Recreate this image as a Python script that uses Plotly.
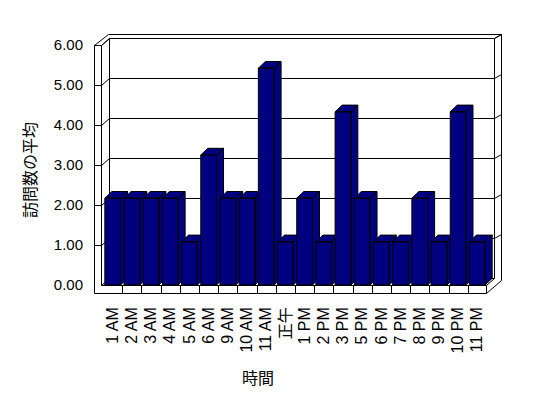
import plotly.graph_objects as go

# ---- data ----
categories = ["1 AM", "2 AM", "3 AM", "4 AM", "5 AM", "6 AM", "9 AM", "10 AM", "11 AM", "正午",
              "1 PM", "2 PM", "3 PM", "5 PM", "6 PM", "7 PM", "8 PM", "9 PM", "10 PM", "11 PM"]
values = [2.17, 2.17, 2.17, 2.17, 1.08, 3.25, 2.17, 2.17, 5.42, 1.08,
          2.17, 1.08, 4.33, 2.17, 1.08, 1.08, 2.17, 1.08, 4.33, 1.08]
y_ticks = [0, 1, 2, 3, 4, 5, 6]
y_ticktext = ["0.00", "1.00", "2.00", "3.00", "4.00", "5.00", "6.00"]
x_title = "時間"
y_title = "訪問数の平均"

# ---- geometry (pixel layout of the 3D box) ----
W, H = 548, 398
PL, PR, PT, PB = 93, 502, 26, 296          # plot area in pixels
KX = 19.19                                  # px per category
X0 = 112.7                                  # px of category 0 centre
Y0 = 285.0                                  # px of value 0 (front plane)
KY = 40.0                                   # px per unit value

def fx(px):
    return (px - X0) / KX

def fy(py):
    return (Y0 - py) / KY

xa, xb = fx(PL), fx(PR)
ya, yb = fy(PB), fy(PT)

NAVY = "#000080"
BAR_W = 0.82
BDX, BDY = 7.0 / KX, 6.7 / KY              # bar depth offset in data units

fig = go.Figure()

# bars: each bar as front / side / top faces, drawn left to right
for i, v in enumerate(values):
    l, r = i - BAR_W / 2, i + BAR_W / 2
    xs = [l, r, r, l, l, None,
          r, r + BDX, r + BDX, r, r, None,
          l, r, r + BDX, l + BDX, l]
    ys = [0, 0, v, v, 0, None,
          0, BDY, v + BDY, v, 0, None,
          v, v, v + BDY, v + BDY, v]
    fig.add_trace(go.Scatter(x=xs, y=ys, mode="lines", fill="toself",
                             fillcolor=NAVY, line=dict(color="black", width=1),
                             hoverinfo="skip", showlegend=False,
                             name=categories[i]))

# ---- walls / floor / gridlines as shapes ----
shapes = []

def seg(p1, p2):
    shapes.append(dict(type="line", xref="x", yref="y", layer="below",
                       x0=fx(p1[0] + 0.5), y0=fy(p1[1] + 0.5),
                       x1=fx(p2[0] + 0.5), y1=fy(p2[1] + 0.5),
                       line=dict(color="black", width=1)))

# left wall
seg((94, 45), (94, 293))
seg((101, 45), (101, 285))
seg((94, 45), (101, 45))
seg((94, 45), (108, 34))
seg((101, 45), (109, 38))
seg((109, 38), (109, 278))
# back wall
seg((108, 34), (501, 34))
seg((501, 34), (501, 280))
seg((494, 38), (501, 34))
seg((494, 38), (494, 278))
# floor
seg((94, 293), (486, 293))
seg((101, 285), (486, 285))
seg((486, 285), (486, 293))
seg((486, 293), (501, 280))
seg((486, 285), (494, 278))
seg((101, 285), (109, 278))
seg((109, 278), (494, 278))
# category separators on floor front face
for j in range(1, len(categories)):
    xp = X0 - KX / 2 + KX * j
    shapes.append(dict(type="line", xref="x", yref="y", layer="below",
                       x0=fx(round(xp) + 0.5), y0=fy(285.5),
                       x1=fx(round(xp) + 0.5), y1=fy(293.5),
                       line=dict(color="black", width=1)))
# gridlines on back wall + ticks on left/right walls
for t in y_ticks[1:]:
    yf = Y0 - KY * t
    yk = yf - 7
    seg((94, yf), (101, yf))
    seg((101, yf), (109, yk))
    seg((109, yk), (494, yk))
    seg((494, yk), (501, yk - 4))

fig.update_layout(
    width=W, height=H,
    margin=dict(l=PL, r=W - PR, t=PT, b=H - PB, pad=0),
    paper_bgcolor="white", plot_bgcolor="white",
    showlegend=False,
    shapes=shapes,
    font=dict(family="Liberation Sans, Noto Sans CJK JP, sans-serif", color="black"),
    xaxis=dict(range=[xa, xb], showgrid=False, zeroline=False, showline=False,
               tickmode="array", tickvals=list(range(len(categories))), ticktext=categories,
               tickangle=-90, ticks="", ticklabelstandoff=7,
               tickfont=dict(size=16, family="Liberation Sans, Noto Sans CJK JP"),
               fixedrange=True),
    yaxis=dict(range=[ya, yb], showgrid=False, zeroline=False, showline=False,
               tickmode="array", tickvals=y_ticks, ticktext=y_ticktext,
               ticks="", ticklabelstandoff=9,
               tickfont=dict(size=15, family="Liberation Sans"),
               fixedrange=True),
    annotations=[
        dict(text=x_title, xref="paper", yref="paper",
             x=(258 - PL) / (PR - PL), y=(PB - 377) / (PB - PT),
             showarrow=False, xanchor="center", yanchor="middle",
             font=dict(size=16, family="Noto Sans CJK JP")),
        dict(text=y_title, xref="paper", yref="paper", textangle=-90,
             x=(29 - PL) / (PR - PL), y=(PB - 170) / (PB - PT),
             showarrow=False, xanchor="center", yanchor="middle",
             font=dict(size=16, family="Noto Sans CJK JP")),
    ],
)

fig.write_html("out.html")
